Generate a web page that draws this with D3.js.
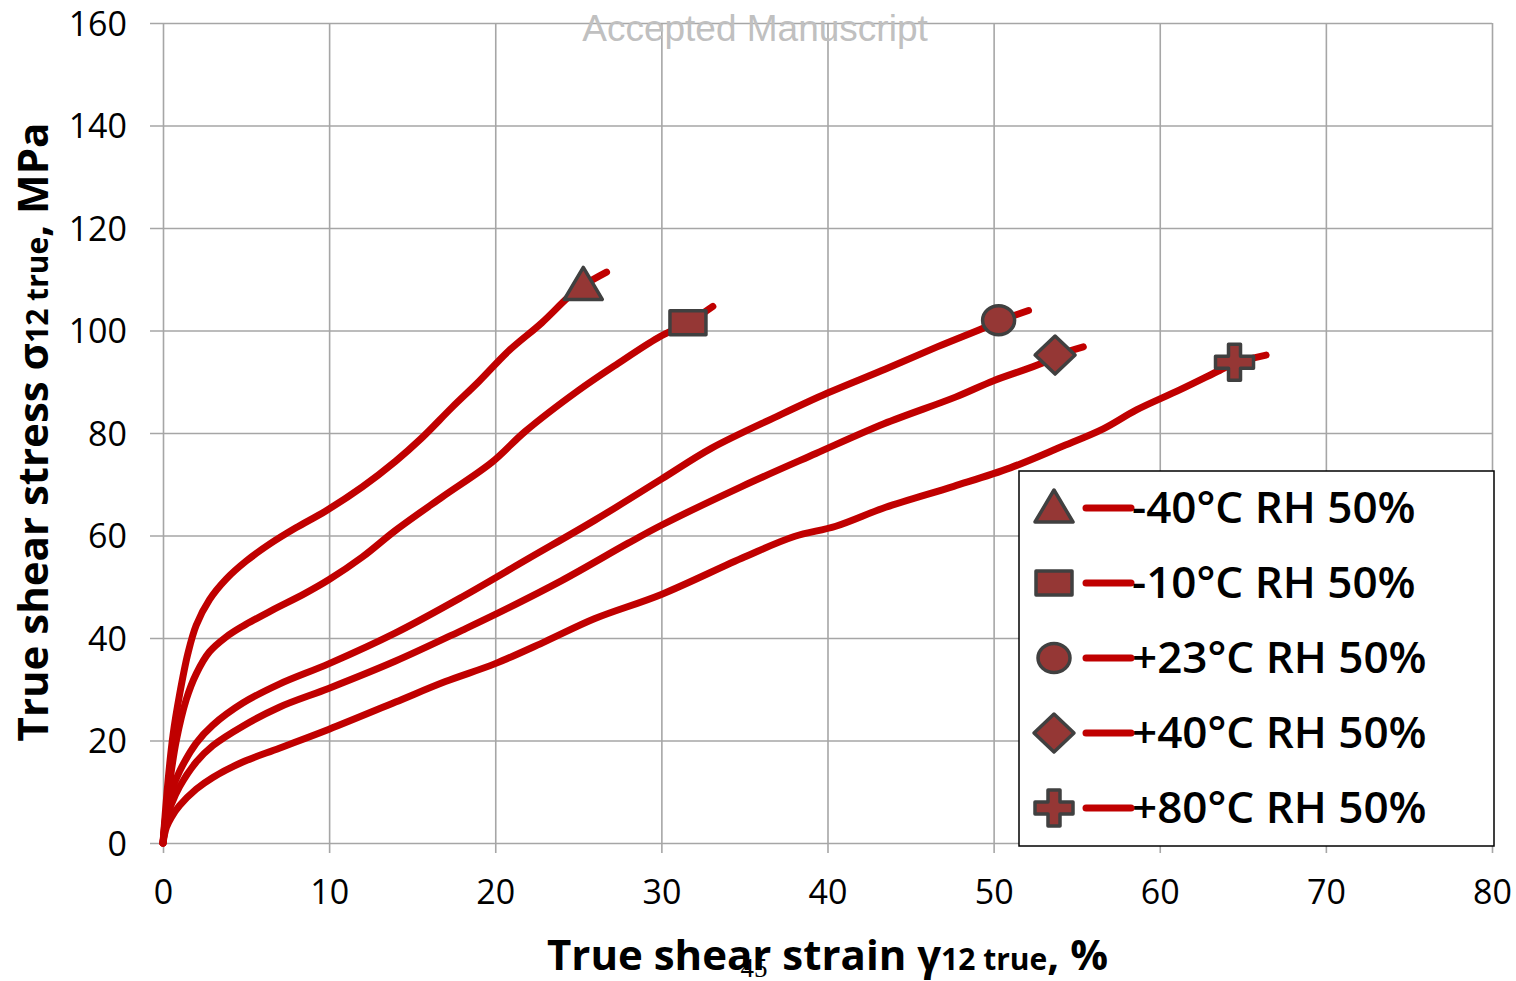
<!DOCTYPE html>
<html>
<head>
<meta charset="utf-8">
<script src="https://cdn.jsdelivr.net/npm/d3@7"></script>
<style>
    html, body { margin: 0; padding: 0; background: #ffffff; }
    svg { display: block; }
    text { font-family: "Open Sans", "DejaVu Sans", sans-serif; }
</style>
</head>
<body>
<svg class="chart-shear" width="1516" height="981"></svg>
<script>

// series labels
var seriesNames = ["-40°C RH 50%", "-10°C RH 50%", "+23°C RH 50%", "+40°C RH 50%", "+80°C RH 50%"];
var markerShapes = ["triangle", "square", "circle", "diamond", "cross"];

// strain (%) / stress (MPa)
var strainM40 = [0, 0.3, 0.6, 1.0, 1.5, 2.0, 2.8, 3.8, 5.0, 6.5, 8.0, 9.8, 12.0, 14.0, 15.5, 17.4, 19.0, 20.8, 22.8, 24.4, 25.3, 26.7];
var stressM40 = [0, 12.0, 21.0, 29.0, 37.0, 42.5, 47.5, 51.5, 55.0, 58.5, 61.5, 64.8, 69.5, 74.5, 78.8, 85.0, 90.0, 96.0, 101.5, 106.5, 108.8, 111.4];

var strainM10 = [0, 0.2, 0.5, 0.8, 1.4, 2.0, 2.8, 3.8, 4.8, 6.5, 8.5, 10.0, 12.0, 14.0, 16.8, 19.8, 21.8, 25.0, 27.4, 29.8, 31.6, 33.1];
var stressM10 = [0, 6.0, 14.0, 20.0, 28.0, 33.0, 37.3, 40.2, 42.3, 45.3, 48.6, 51.4, 55.8, 61.0, 67.5, 74.3, 80.3, 88.3, 93.6, 98.6, 101.5, 104.7];

var strainP23 = [0, 0.2, 0.5, 1.0, 2.0, 3.0, 4.8, 7.0, 10.0, 14.0, 18.0, 22.0, 26.0, 30.0, 33.0, 37.0, 40.0, 43.5, 46.6, 49.4, 50.3, 52.1];
var stressP23 = [0, 6.0, 10.0, 14.0, 19.5, 23.0, 27.3, 31.0, 35.0, 41.0, 48.0, 55.5, 63.0, 71.0, 77.0, 83.3, 87.8, 92.5, 96.8, 100.5, 101.8, 103.9];

var strainP40 = [0, 0.2, 0.5, 1.0, 2.0, 3.0, 4.8, 7.0, 10.0, 14.0, 18.0, 20.0, 24.0, 28.0, 30.0, 34.8, 39.3, 43.4, 47.7, 50.0, 52.9, 53.7, 55.4];
var stressP40 = [0, 4.5, 7.5, 11.0, 15.8, 19.0, 22.8, 26.5, 30.2, 35.5, 41.5, 44.6, 51.2, 58.5, 62.0, 69.5, 76.0, 81.8, 87.0, 90.2, 93.6, 95.0, 96.8];

var strainP80 = [0, 0.2, 0.5, 1.0, 2.0, 3.0, 4.8, 7.0, 10.0, 14.0, 17.0, 20.0, 23.0, 26.0, 30.0, 35.0, 38.0, 40.5, 43.5, 47.6, 51.0, 54.0, 56.6, 58.6, 61.2, 63.6, 64.5, 66.4];
var stressP80 = [0, 3.0, 5.0, 7.3, 10.5, 12.8, 15.8, 18.5, 22.2, 27.5, 31.5, 35.0, 39.3, 43.8, 48.5, 55.8, 59.8, 61.8, 65.5, 69.6, 73.2, 77.2, 80.8, 84.5, 88.4, 92.2, 93.6, 95.2];

// one marker near the end of each curve
var markerStrain = [25.3, 31.6, 50.3, 53.7, 64.5];
var markerStress = [108.8, 101.5, 102.0, 95.2, 93.8];

var xTicks = [0, 10, 20, 30, 40, 50, 60, 70, 80];
var yTicks = [0, 20, 40, 60, 80, 100, 120, 140, 160];

var strains = [strainM40, strainM10, strainP23, strainP40, strainP80];
var stresses = [stressM40, stressM10, stressP23, stressP40, stressP80];

var series = seriesNames.map(function(name, i) {

    return {
        name: name,
        shape: markerShapes[i],
        points: strains[i].map(function(s, j) { return [s, stresses[i][j]]; }),
        marker: [markerStrain[i], markerStress[i]]
    };

});

var margin = {left: 163, top: 23, right: 24, bottom: 138};
var width = 1516 - margin.left - margin.right;
var height = 981 - margin.top - margin.bottom;

var lineColor = "#c00000";
var markerFill = "#953735";
var markerStroke = "#404040";
var gridColor = "#a6a6a6";

var svg = d3.select(".chart-shear");
var chart = svg.append("g").attr("transform", "translate(" + margin.left + "," + margin.top + ")");

var x = d3.scaleLinear().domain([0, 80]).range([0, width]);
var y = d3.scaleLinear().domain([0, 160]).range([height, 0]);

// grid + axes
var yAxis = chart.append("g").call(d3.axisLeft(y).tickValues(yTicks).tickSizeInner(-width).tickSizeOuter(0).tickPadding(36));
yAxis.select(".domain").remove();
yAxis.selectAll(".tick line").attr("x1", -13).attr("stroke", gridColor).attr("stroke-width", 1.6);
yAxis.selectAll(".tick text").attr("fill", "#000").style("font-size", "34px").attr("dy", "0.36em");

var xAxis = chart.append("g").attr("transform", "translate(0," + height + ")")
    .call(d3.axisBottom(x).tickValues(xTicks).tickSizeInner(-height).tickSizeOuter(0).tickPadding(34));
xAxis.select(".domain").remove();
xAxis.selectAll(".tick line").attr("y1", 10).attr("stroke", gridColor).attr("stroke-width", 1.6);
xAxis.selectAll(".tick text").attr("fill", "#000").style("font-size", "34px").attr("dy", "0.8em");

// curves
var line = d3.line().x(function(d) { return x(d[0]); }).y(function(d) { return y(d[1]); }).curve(d3.curveCatmullRom.alpha(0.5));

chart.selectAll(".curve").data(series).enter().append("path")
    .attr("class", "curve")
    .attr("d", function(d) { return line(d.points); })
    .attr("fill", "none")
    .attr("stroke", lineColor)
    .attr("stroke-width", 7)
    .attr("stroke-linecap", "round")
    .attr("stroke-linejoin", "round");

// marker shapes, centred on 0,0
function markerPath(shape) {

    if (shape === "triangle") return "M0,-18 L19,14 L-19,14 Z";
    if (shape === "square") return "M-18,-12 L18,-12 L18,12 L-18,12 Z";
    if (shape === "circle") return "M-16,0 A16,14.5 0 1,0 16,0 A16,14.5 0 1,0 -16,0 Z";
    if (shape === "diamond") return "M0,-19 L20,0 L0,19 L-20,0 Z";
    return "M-6,-18 L6,-18 L6,-6 L19,-6 L19,6 L6,6 L6,18 L-6,18 L-6,6 L-19,6 L-19,-6 L-6,-6 Z";

}

chart.selectAll(".marker").data(series).enter().append("path")
    .attr("class", "marker")
    .attr("transform", function(d) { return "translate(" + x(d.marker[0]) + "," + y(d.marker[1]) + ")"; })
    .attr("d", function(d) { return markerPath(d.shape); })
    .attr("fill", markerFill)
    .attr("stroke", markerStroke)
    .attr("stroke-width", 3.5)
    .attr("stroke-linejoin", "round");

// legend
var legendBox = {x: 1019, y: 471, w: 475, h: 375};
var legendRow = 75;

var legend = svg.append("g");
legend.append("rect").attr("x", legendBox.x).attr("y", legendBox.y).attr("width", legendBox.w).attr("height", legendBox.h)
    .attr("fill", "#fff").attr("stroke", "#000").attr("stroke-width", 1.5);

var rows = legend.selectAll(".legend-row").data(series).enter().append("g")
    .attr("class", "legend-row")
    .attr("transform", function(d, i) { return "translate(" + legendBox.x + "," + (legendBox.y + 37 + i * legendRow) + ")"; });

rows.append("path").attr("transform", "translate(35,0)").attr("d", function(d) { return markerPath(d.shape); })
    .attr("fill", markerFill).attr("stroke", markerStroke).attr("stroke-width", 3.5).attr("stroke-linejoin", "round");

rows.append("line").attr("x1", 67).attr("x2", 112).attr("y1", 0).attr("y2", 0)
    .attr("stroke", lineColor).attr("stroke-width", 7).attr("stroke-linecap", "round");

rows.append("text").attr("x", 113).attr("y", 15).style("font-size", "44px").style("font-weight", "600")
    .attr("fill", "#000").text(function(d) { return d.name; });

// axis titles
var xTitle = svg.append("text").attr("x", margin.left + width / 2).attr("y", 970).attr("text-anchor", "middle")
    .style("font-weight", "bold").style("font-size", "42px").attr("fill", "#000");
xTitle.append("tspan").text("True shear strain γ");
xTitle.append("tspan").style("font-size", "30px").text("12 true");
xTitle.append("tspan").text(", %");

var yTitle = svg.append("text").attr("transform", "translate(48," + 432 + ") rotate(-90)").attr("text-anchor", "middle")
    .style("font-weight", "bold").style("font-size", "42px").attr("fill", "#000");
yTitle.append("tspan").text("True shear stress σ");
yTitle.append("tspan").style("font-size", "30px").text("12 true");
yTitle.append("tspan").text(", MPa");

// page stamps
svg.append("text").attr("x", 755).attr("y", 41).attr("text-anchor", "middle").attr("fill", "#c0c0c0")
    .style("font-family", "Liberation Sans").style("font-size", "37px").text("Accepted Manuscript");

svg.append("text").attr("x", 754).attr("y", 977).attr("text-anchor", "middle").attr("fill", "#000")
    .style("font-family", "Liberation Serif").style("font-size", "27px").text("45");

</script>
</body>
</html>
